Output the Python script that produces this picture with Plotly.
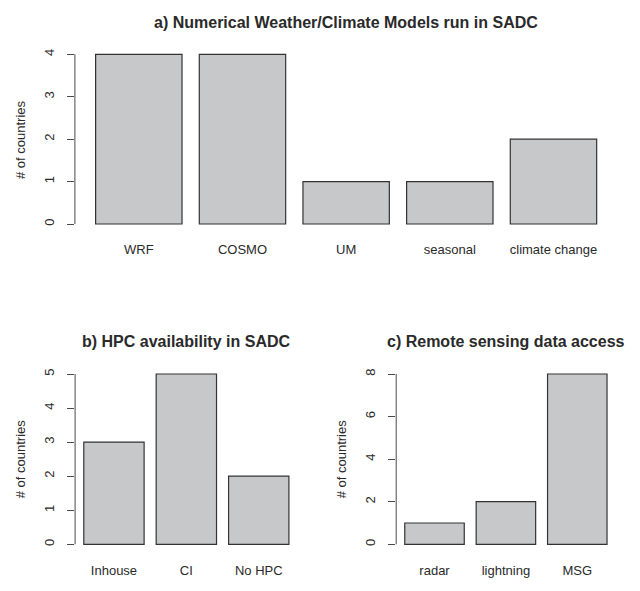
import plotly.graph_objects as go

# Panel a
models = ["WRF", "COSMO", "UM", "seasonal", "climate change"]
models_n = [4, 4, 1, 1, 2]
models_ticks = [0, 1, 2, 3, 4]
# Panel b
hpc = ["Inhouse", "CI", "No HPC"]
hpc_n = [3, 5, 2]
hpc_ticks = [0, 1, 2, 3, 4, 5]
# Panel c
rs = ["radar", "lightning", "MSG"]
rs_n = [1, 2, 8]
rs_ticks = [0, 2, 4, 6, 8]

titles = ["a) Numerical Weather/Climate Models run in SADC",
          "b) HPC availability in SADC",
          "c) Remote sensing data access"]
ylabel = "# of countries"

FONT = "Liberation Sans, Arial, Helvetica, sans-serif"
TXT = "#2a2a2a"
AXC = "#4a4a4a"
FILL = "#c7c8c9"
EDGE = "#333333"

W, H = 640, 591

def px_x(v):
    return v / W

def px_y(v):
    return 1 - v / H

panels = [
    dict(cats=models, vals=models_n, ticks=models_ticks, title=titles[0],
         xd=[px_x(74.9), px_x(617.4)], yd=[px_y(230.8), px_y(47.5)]),
    dict(cats=hpc, vals=hpc_n, ticks=hpc_ticks, title=titles[1],
         xd=[px_x(75.1), px_x(297.6)], yd=[px_y(551.1), px_y(367.2)]),
    dict(cats=rs, vals=rs_n, ticks=rs_ticks, title=titles[2],
         xd=[px_x(396.2), px_x(615.6)], yd=[px_y(551.1), px_y(367.2)]),
]

fig = go.Figure()
shapes = []
annotations = []
layout_axes = {}

for i, p in enumerate(panels, start=1):
    sx = "" if i == 1 else str(i)
    xa, ya = "x" + sx, "y" + sx
    fig.add_trace(go.Bar(
        x=p["cats"], y=p["vals"], xaxis=xa, yaxis=ya,
        marker=dict(color=FILL, line=dict(color=EDGE, width=1.2)),
        showlegend=False, hoverinfo="x+y",
    ))
    n = len(p["cats"])
    # R barplot geometry: width 1, space 0.2, 4% axis extension
    left = 0.2 - 0.04 * (1.2 * n)
    right = 1.2 * n + 0.04 * (1.2 * n)
    xr = [(left - 0.7) / 1.2, (right - 0.7) / 1.2]
    top = max(p["vals"])
    yr = [-0.04 * top, top * 1.04]
    layout_axes["xaxis" + sx] = dict(
        domain=p["xd"], anchor=ya, range=xr, type="category",
        showline=False, showgrid=False, zeroline=False,
        ticks="outside", ticklen=0, tickcolor="rgba(0,0,0,0)",
        ticklabelstandoff=7,
        tickfont=dict(family=FONT, size=13, color=TXT),
        fixedrange=True,
    )
    layout_axes["yaxis" + sx] = dict(
        domain=p["yd"], anchor=xa, range=yr,
        showline=False, showgrid=False, zeroline=False,
        tickmode="array", tickvals=p["ticks"], ticktext=[str(t) for t in p["ticks"]],
        ticks="outside", ticklen=7, tickwidth=1, tickcolor=AXC,
        tickangle=-90, ticklabelstandoff=8,
        tickfont=dict(family=FONT, size=13, color=TXT),
        fixedrange=True,
    )
    shapes.append(dict(type="line", xref=xa + " domain", yref=ya,
                       x0=0, x1=0, y0=p["ticks"][0], y1=p["ticks"][-1],
                       line=dict(color=AXC, width=1)))
    annotations.append(dict(text=ylabel, xref=xa + " domain", yref=ya + " domain",
                            x=0, y=0.5, xshift=-55, textangle=-90, showarrow=False,
                            xanchor="center", yanchor="middle",
                            font=dict(family=FONT, size=13, color=TXT)))
    annotations.append(dict(text="<b>" + p["title"] + "</b>", xref=xa + " domain",
                            yref=ya + " domain", x=0.5, y=1, yshift=25.5,
                            showarrow=False, xanchor="center", yanchor="middle",
                            font=dict(family=FONT, size=16, color=TXT)))

fig.update_layout(
    width=W, height=H, autosize=False,
    margin=dict(l=0, r=0, t=0, b=0),
    paper_bgcolor="white", plot_bgcolor="white",
    bargap=1 - 1 / 1.2,
    shapes=shapes, annotations=annotations,
    **layout_axes,
)

fig.write_html("out.html", config={"displayModeBar": False},
               post_script="document.body.style.margin='0px';")
